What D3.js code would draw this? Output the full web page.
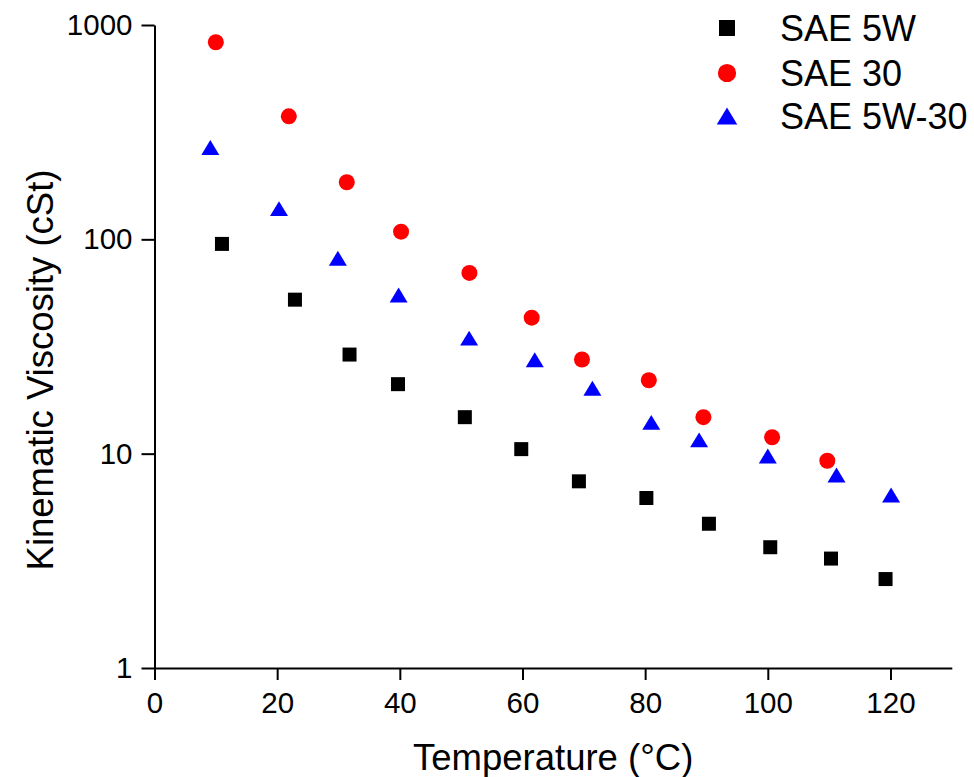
<!DOCTYPE html>
<html>
<head>
<meta charset="utf-8">
<script src="https://cdn.jsdelivr.net/npm/d3@7"></script>
<style>
  html, body { margin: 0; padding: 0; background: #fff; }
  svg { display: block; font-family: Arial, "Liberation Sans", sans-serif; }
</style>
</head>
<body>
<svg id="chart" width="974" height="777"></svg>
<script>
// Kinematic viscosity of engine oils versus temperature
const seriesNames = ["SAE 5W", "SAE 30", "SAE 5W-30"];

const sae5wTemp = [11.0, 22.9, 31.8, 39.7, 50.6, 59.8, 69.2, 80.2, 90.4, 100.4, 110.3, 119.2];
const sae5wVisc = [95.2, 52.3, 29.0, 21.1, 14.8, 10.5, 7.43, 6.21, 4.71, 3.66, 3.24, 2.60];

const sae30Temp = [10.0, 21.9, 31.35, 40.2, 51.35, 61.5, 69.7, 80.6, 89.5, 100.7, 109.7];
const sae30Visc = [831, 375, 184.7, 108.6, 69.7, 43.1, 27.5, 22.0, 14.8, 11.93, 9.27];

const sae5w30Temp = [9.1, 20.3, 29.9, 39.8, 51.3, 62.0, 71.4, 81.0, 88.8, 100.0, 111.2, 120.1];
const sae5w30Visc = [268, 139.1, 81.6, 55.0, 34.6, 27.4, 20.2, 14.0, 11.6, 9.75, 7.95, 6.42];

const xMajorTicks = [0, 20, 40, 60, 80, 100, 120];
const xMinorTicks = [10, 30, 50, 70, 90, 110, 130];
const yMajorTicks = [1, 10, 100, 1000];

const svg = d3.select("#chart");
const margin = { left: 154.5, right: 22.2, top: 25, bottom: 109 };
const W = 974, H = 777;

const x = d3.scaleLinear().domain([0, 130]).range([margin.left, W - margin.right]);
const y = d3.scaleLog().domain([1, 1000]).range([H - margin.bottom, margin.top]);

// minor ticks for each decade (2..9)
const yMinorTicks = [];
[1, 10, 100].forEach(d => { for (let k = 2; k <= 9; k++) yMinorTicks.push(d * k); });

const fontTick = 29.5;
const fontTitle = 36.5;
const axisStroke = 2;

// x axis
const gx = svg.append("g").attr("transform", `translate(0,${y(1)})`);
gx.call(d3.axisBottom(x).tickValues(xMinorTicks).tickSize(7).tickFormat("").tickSizeOuter(0));
gx.call(d3.axisBottom(x).tickValues(xMajorTicks).tickSize(12).tickPadding(12.5).tickSizeOuter(0));
gx.selectAll("path.domain").attr("stroke-width", axisStroke).attr("stroke", "#000");
gx.selectAll(".tick line").attr("stroke-width", axisStroke).attr("stroke", "#000");
gx.selectAll(".tick text").attr("font-size", fontTick).attr("font-family", null).attr("fill", "#000");

// y axis
const gy = svg.append("g").attr("transform", `translate(${x(0)},0)`);
gy.call(d3.axisLeft(y).tickValues(yMinorTicks).tickSize(8).tickFormat("").tickSizeOuter(0));
gy.call(d3.axisLeft(y).tickValues(yMajorTicks).tickSize(13).tickPadding(9)
  .tickFormat(d3.format("d")).tickSizeOuter(0));
gy.selectAll("path.domain").attr("stroke-width", axisStroke).attr("stroke", "#000");
gy.selectAll(".tick line").attr("stroke-width", axisStroke).attr("stroke", "#000");
gy.selectAll(".tick text").attr("font-size", fontTick).attr("font-family", null).attr("fill", "#000");

// axis titles
svg.append("text")
  .attr("x", (x(0) + x(130)) / 2).attr("y", 770)
  .attr("text-anchor", "middle").attr("font-size", fontTitle).attr("fill", "#000")
  .text("Temperature (\u00B0C)");

svg.append("text")
  .attr("transform", `translate(53,370) rotate(-90)`)
  .attr("text-anchor", "middle").attr("font-size", fontTitle).attr("fill", "#000")
  .text("Kinematic Viscosity (cSt)");

// triangle centred on its bounding box
const boxTriangle = {
  draw(ctx, size) {
    const w = Math.sqrt(size * 4 / Math.sqrt(3));
    const h = w * 0.83;
    ctx.moveTo(0, -h / 2);
    ctx.lineTo(w / 2, h / 2);
    ctx.lineTo(-w / 2, h / 2);
    ctx.closePath();
  }
};

const series = [
  { name: seriesNames[0], t: sae5wTemp, v: sae5wVisc, color: "#000000", type: d3.symbolSquare, size: 14 * 14 },
  { name: seriesNames[1], t: sae30Temp, v: sae30Visc, color: "#ff0000", type: d3.symbolCircle, size: Math.PI * 8 * 8 },
  { name: seriesNames[2], t: sae5w30Temp, v: sae5w30Visc, color: "#0000ff", type: boxTriangle, size: 18 * 18 * Math.sqrt(3) / 4 }
];

series.forEach(s => {
  const pts = s.t.map((t, i) => ({ t, v: s.v[i] }));
  svg.append("g").selectAll("path")
    .data(pts).join("path")
    .attr("transform", d => `translate(${x(d.t)},${y(d.v)})`)
    .attr("d", d3.symbol().type(s.type).size(s.size))
    .attr("fill", s.color);
});

// legend
const legendY = [28, 73, 116];
const lg = svg.append("g");
series.forEach((s, i) => {
  lg.append("path")
    .attr("transform", `translate(727,${legendY[i]})`)
    .attr("d", d3.symbol().type(s.type).size(s.size * 1.3))
    .attr("fill", s.color);
  lg.append("text")
    .attr("x", 780).attr("y", legendY[i]).attr("dy", "0.36em")
    .attr("font-size", 36).attr("fill", "#000")
    .text(s.name);
});
</script>
</body>
</html>
